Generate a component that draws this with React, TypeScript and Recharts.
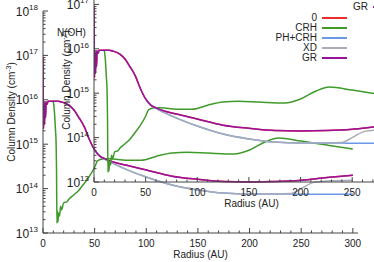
import React from 'react';
import { LineChart, Line, XAxis, YAxis } from 'recharts';

// radius (AU) and log10 of column density
const GR_R = [0, 0.5, 1, 1.5, 2, 2.5, 3, 4, 5, 10, 15, 18, 25, 30, 35, 40, 45, 50, 55, 60, 68, 80, 100, 125, 150, 175, 200, 225, 250, 275, 300];
const GR_LG = [16.96, 15.35, 15.9, 15.45, 15.95, 15.6, 15.95, 15.9, 15.97, 15.97, 15.97, 15.95, 15.88, 15.77, 15.59, 15.39, 15.1, 14.87, 14.73, 14.67, 14.6, 14.53, 14.42, 14.28, 14.21, 14.16, 14.15, 14.16, 14.19, 14.25, 14.3];

const CRH_R = [9, 10, 11, 12, 12.6, 13.1, 13.5, 14, 14.5, 15, 16, 17, 18, 20, 23, 25, 30, 35, 40, 45, 50, 53, 59, 65, 80, 95, 110, 125, 140, 160, 185, 200, 215, 228, 250, 275, 300];
const CRH_LG = [15.97, 15.95, 15.75, 15.35, 15.1, 14.4, 13.22, 13.5, 13.25, 13.45, 13.38, 13.6, 13.52, 13.68, 13.7, 13.76, 13.86, 13.97, 14.12, 14.28, 14.48, 14.63, 14.67, 14.67, 14.64, 14.64, 14.73, 14.8, 14.82, 14.8, 14.78, 14.87, 15.05, 15.14, 15.07, 14.98, 14.89];

const PH_R = [50, 55, 60, 75, 100, 125, 150, 175, 200, 225, 240, 250, 275, 300];
const PH_LG = [14.87, 14.73, 14.66, 14.49, 14.26, 14.08, 13.97, 13.9, 13.88, 13.88, 13.88, 13.87, 13.87, 13.88];

const XD_R = [50, 55, 60, 75, 100, 125, 150, 175, 200, 225, 240, 250, 262, 275, 300];
const XD_LG = [14.87, 14.73, 14.66, 14.49, 14.26, 14.08, 13.97, 13.9, 13.88, 13.88, 13.89, 14.0, 14.14, 14.17, 14.19];

const X_TICKS = [0, 10, 20, 30, 40, 50, 60, 70, 80, 90, 100, 110, 120, 130, 140, 150, 160, 170, 180, 190, 200, 210, 220, 230, 240, 250, 260, 270, 280, 290, 300];
const DECADES = [13, 14, 15, 16, 17];
const MANTISSA = [1, 2, 3, 4, 5, 6, 7, 8, 9];

const RED = '#e8302a';
const GREEN = '#3f9a2a';
const BLUE = '#6a98e8';
const GRAY = '#a8abb8';
const PURPLE = '#9a129c';
const AXIS = '#444';
const FONT = '"Liberation Sans", Arial, sans-serif';

const build = (r: number[], lg: number[]) => r.map((x, i) => ({ r: x, v: Math.pow(10, lg[i]) }));
const grData = build(GR_R, GR_LG);
const crhData = build(CRH_R, CRH_LG);
const phData = build(PH_R, PH_LG);
const xdData = build(XD_R, XD_LG);

const Y_TICKS = [...DECADES.flatMap((e) => MANTISSA.map((m) => m * Math.pow(10, e))), 1e18];

const LEGEND = [
  { name: '0', color: RED },
  { name: 'CRH', color: GREEN },
  { name: 'PH+CRH', color: BLUE },
  { name: 'XD', color: GRAY },
  { name: 'GR', color: PURPLE },
];

const yTick = (side: 'left' | 'right') => (p: any) => {
  const v = p.payload.value;
  const e = Math.round(Math.log10(v));
  const major = Math.abs(v - Math.pow(10, e)) < 1e-6 * v;
  const len = major ? 5 : 2.5;
  const dir = side === 'left' ? 1 : -1;
  return (
    <g>
      <line x1={p.x} x2={p.x + dir * len} y1={p.y} y2={p.y} stroke={AXIS} />
      {major && side === 'left' && (
        <text x={p.x - 5} y={p.y + 4.5} textAnchor="end" fontSize={12} fill="#222" fontFamily={FONT}>
          10<tspan dy={-5.5} fontSize={8}>{e}</tspan>
        </text>
      )}
    </g>
  );
};

const xTick = (side: 'top' | 'bottom') => (p: any) => {
  const v = p.payload.value;
  const major = v % 50 === 0;
  const len = major ? 5 : 2.5;
  const dir = side === 'bottom' ? -1 : 1;
  return (
    <g>
      <line x1={p.x} x2={p.x} y1={p.y} y2={p.y + dir * len} stroke={AXIS} />
      {major && side === 'bottom' && (
        <text x={p.x} y={p.y + 14} textAnchor="middle" fontSize={10} fill="#222" fontFamily={FONT}>
          {v}
        </text>
      )}
    </g>
  );
};

function Panel({ dx, dy }: { dx: number; dy: number }) {
  const ax = { stroke: AXIS, strokeWidth: 1 };
  return (
    <div style={{ position: 'absolute', left: dx, top: dy, width: 374, height: 262 }}>
      <LineChart width={374} height={262} margin={{ top: 11, right: 16, bottom: 9, left: 0 }}>
        <XAxis xAxisId="b" type="number" dataKey="r" domain={[0, 305]} allowDataOverflow ticks={X_TICKS} interval={0}
          tickSize={0} tickMargin={0} tickLine={false} axisLine={ax} height={20} tick={xTick('bottom')} />
        <XAxis xAxisId="t" orientation="top" type="number" dataKey="r" domain={[0, 305]} allowDataOverflow ticks={X_TICKS} interval={0}
          tickSize={0} tickMargin={0} tickLine={false} axisLine={ax} height={0} tick={xTick('top')} />
        <YAxis yAxisId="l" scale="log" type="number" domain={[1e13, 1e18]} allowDataOverflow ticks={Y_TICKS} interval={0}
          tickSize={0} tickMargin={0} tickLine={false} axisLine={ax} width={43} tick={yTick('left')} />
        <YAxis yAxisId="r" orientation="right" scale="log" type="number" domain={[1e13, 1e18]} allowDataOverflow ticks={Y_TICKS} interval={0}
          tickSize={0} tickMargin={0} tickLine={false} axisLine={ax} width={0} tick={yTick('right')} />
        <Line data={grData} dataKey="v" name="0" xAxisId="t" yAxisId="r" type="monotone" stroke={RED} strokeWidth={1.5} dot={false} isAnimationActive={false} />
        <Line data={crhData} dataKey="v" name="CRH" xAxisId="b" yAxisId="l" type="monotone" stroke={GREEN} strokeWidth={1.5} dot={false} isAnimationActive={false} />
        <Line data={phData} dataKey="v" name="PH+CRH" xAxisId="b" yAxisId="l" type="monotone" stroke={BLUE} strokeWidth={1.5} dot={false} isAnimationActive={false} />
        <Line data={xdData} dataKey="v" name="XD" xAxisId="b" yAxisId="l" type="monotone" stroke={GRAY} strokeWidth={1.5} dot={false} isAnimationActive={false} />
        <Line data={grData} dataKey="v" name="GR" xAxisId="b" yAxisId="l" type="monotone" stroke={PURPLE} strokeWidth={1.5} dot={false} isAnimationActive={false} />
      </LineChart>
      <div style={{ position: 'absolute', left: 247, top: 13, fontFamily: FONT, fontSize: 10, color: '#222' }}>
        {LEGEND.map((s) => (
          <div key={s.name} style={{ display: 'flex', alignItems: 'center', height: 10 }}>
            <span style={{ width: 70, textAlign: 'right', lineHeight: '10px' }}>{s.name}</span>
            <span style={{ width: 25, height: 2, marginLeft: 5, background: s.color }} />
          </div>
        ))}
      </div>
      <div style={{ position: 'absolute', left: 150, top: 249, width: 101, textAlign: 'center', fontFamily: FONT, fontSize: 10, color: '#222', lineHeight: '12px' }}>
        Radius (AU)
      </div>
    </div>
  );
}

const rotated = (cx: number, cy: number): React.CSSProperties => ({
  position: 'absolute', left: cx - 70, top: cy - 7, width: 140, height: 14, lineHeight: '14px',
  textAlign: 'center', transform: 'rotate(-90deg)', fontFamily: FONT, fontSize: 10, color: '#222', whiteSpace: 'nowrap',
});

export default function App() {
  return (
    <div style={{ position: 'absolute', left: 0, top: 0, width: 374, height: 262, overflow: 'hidden', background: '#fff' }}>
      <Panel dx={0} dy={0} />
      <Panel dx={51} dy={-51} />
      <div style={rotated(9, 112)}>Column Density (cm<sup style={{ fontSize: 7 }}>-3</sup>)</div>
      <div style={rotated(64, 80)}>Column Density (cm<sup style={{ fontSize: 7 }}>-2</sup>)</div>
      <div style={{ position: 'absolute', left: 57, top: 27, fontFamily: FONT, fontSize: 10, color: '#222' }}>N(OH)</div>
    </div>
  );
}
